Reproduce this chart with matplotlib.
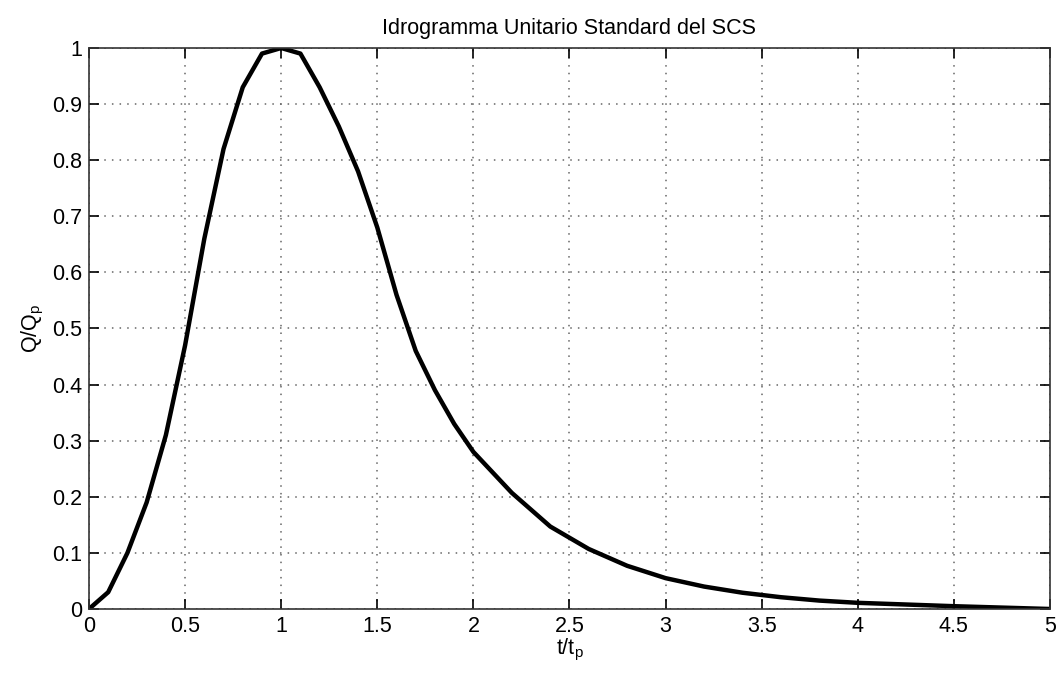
import matplotlib
matplotlib.use("Agg")
import matplotlib.pyplot as plt

# SCS dimensionless unit hydrograph
t_ratio = [0.0, 0.1, 0.2, 0.3, 0.4, 0.5, 0.6, 0.7, 0.8, 0.9, 1.0,
           1.1, 1.2, 1.3, 1.4, 1.5, 1.6, 1.7, 1.8, 1.9, 2.0,
           2.2, 2.4, 2.6, 2.8, 3.0, 3.2, 3.4, 3.6, 3.8, 4.0, 4.5, 5.0]
q_ratio = [0.0, 0.03, 0.10, 0.19, 0.31, 0.47, 0.66, 0.82, 0.93, 0.99, 1.0,
           0.99, 0.93, 0.86, 0.78, 0.68, 0.56, 0.46, 0.39, 0.33, 0.28,
           0.207, 0.147, 0.107, 0.077, 0.055, 0.04, 0.029, 0.021, 0.015, 0.011, 0.005, 0.0]

x_ticks = [0, 0.5, 1, 1.5, 2, 2.5, 3, 3.5, 4, 4.5, 5]
x_labels = ["0", "0.5", "1", "1.5", "2", "2.5", "3", "3.5", "4", "4.5", "5"]
y_ticks = [0, 0.1, 0.2, 0.3, 0.4, 0.5, 0.6, 0.7, 0.8, 0.9, 1]
y_labels = ["0", "0.1", "0.2", "0.3", "0.4", "0.5", "0.6", "0.7", "0.8", "0.9", "1"]

plt.rcParams["font.family"] = ["Liberation Sans", "DejaVu Sans"]
plt.rcParams["mathtext.fontset"] = "custom"
plt.rcParams["mathtext.rm"] = "Liberation Sans"
plt.rcParams["mathtext.it"] = "Liberation Sans"

fig = plt.figure(figsize=(10.62, 6.73), dpi=100)
ax = fig.add_axes([0.0838, 0.0951, 0.9049, 0.8336])

ax.plot(t_ratio, q_ratio, color="black", linewidth=3.2)

ax.set_xlim(0, 5)
ax.set_ylim(0, 1)
ax.set_xticks(x_ticks)
ax.set_xticklabels(x_labels)
ax.set_yticks(y_ticks)
ax.set_yticklabels(y_labels)
ax.tick_params(direction="in", length=7, width=1.2, labelsize=15.5, pad=5,
               top=True, right=True, colors="black")
for s in ax.spines.values():
    s.set_linewidth(1.2)
    s.set_color("#333333")

ax.grid(True, linestyle=(0, (1, 4)), color="#666666", linewidth=1.1)

ax.set_title("Idrogramma Unitario Standard del SCS", fontsize=15.5, pad=10)
ax.set_xlabel(r"t/t$_\mathrm{p}$", fontsize=15.5, labelpad=0)
ax.set_ylabel(r"Q/Q$_\mathrm{p}$", fontsize=15.5, labelpad=4)

fig.savefig("out.png", dpi=100)
plt.close(fig)
